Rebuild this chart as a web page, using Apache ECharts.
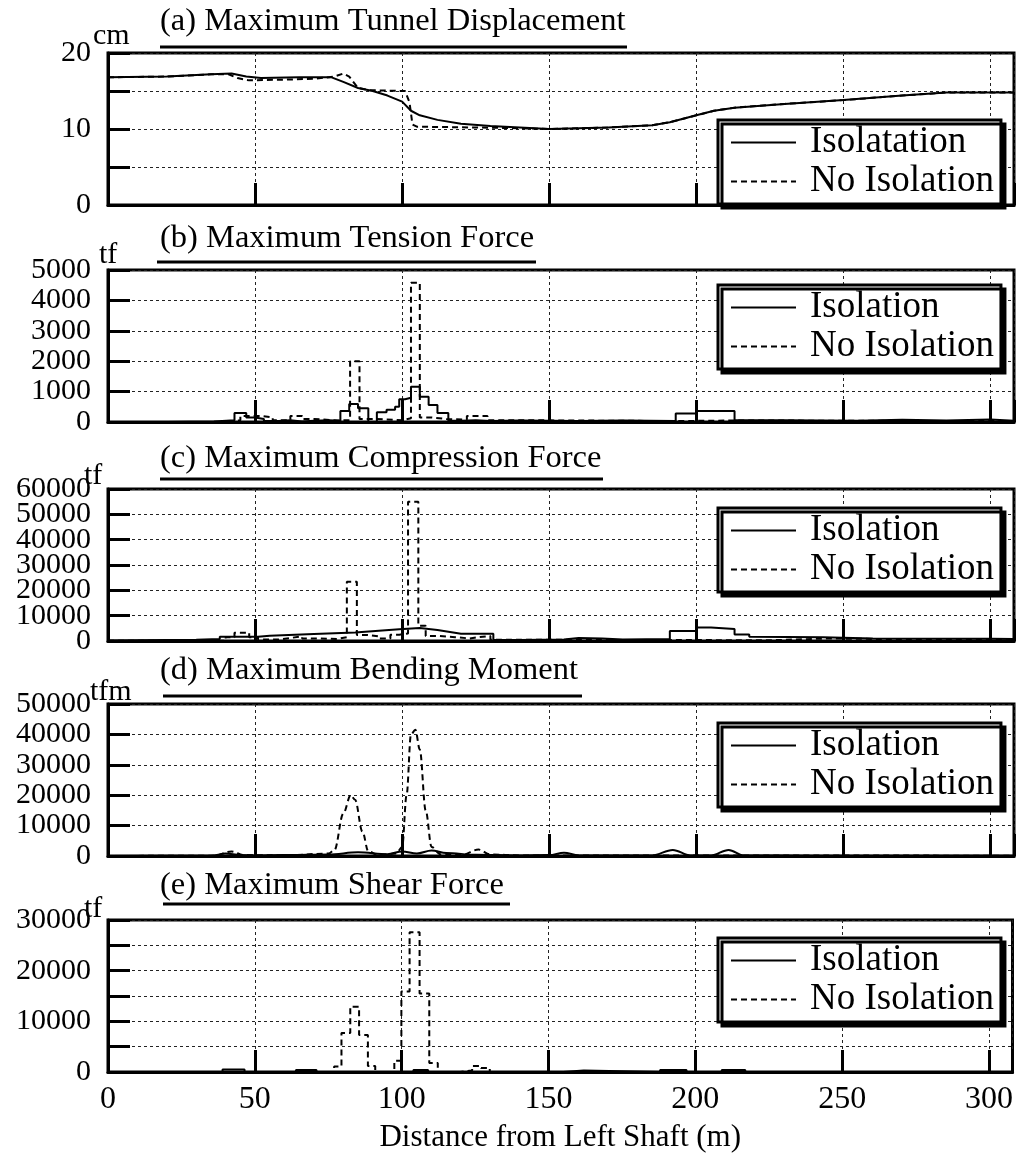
<!DOCTYPE html>
<html>
<head>
<meta charset="utf-8">
<script src="https://cdn.jsdelivr.net/npm/echarts@6/dist/echarts.min.js"></script>
<style>
  * { margin: 0; padding: 0; }
  #chart-container { width: 1016px; height: 1158px; background: #fff; }
</style>
</head>
<body>
<div id="chart-container"></div>
<script>
// values: [distance from left shaft (m), value]
var dispIso = [[0,16.8],[20,16.9],[35,17.2],[42,17.3],[47,16.9],[52,16.7],[65,16.8],[76,16.8],[80,16.2],[85,15.4],[90,15.0],[95,14.4],[100,13.6],[103,12.4],[106,11.8],[112,11.2],[120,10.7],[130,10.4],[150,10.0],[170,10.2],[185,10.5],[191,10.9],[200,11.8],[206,12.4],[213,12.8],[230,13.3],[250,13.8],[270,14.4],[285,14.8],[308,14.8]]
var dispNoIso = [[0,16.8],[20,16.9],[35,17.2],[41,17.2],[44,16.7],[48,16.4],[60,16.5],[70,16.6],[77,16.9],[80,17.3],[82,16.9],[85,15.4],[89,15.1],[101,15.0],[102.5,13.5],[103.5,10.6],[105,10.3],[125,10.2],[140,10.1],[150,10.0],[170,10.2],[185,10.5],[191,10.9],[200,11.8],[206,12.4],[213,12.8],[230,13.3],[250,13.8],[270,14.4],[285,14.8],[308,14.8]]

// step data: value holds from x until the next x
var tensionIso = [[0,0],[20,20],[36,60],[43,300],[47,150],[50,100],[53,30],[58,60],[62,20],[66,40],[70,60],[75,40],[79,360],[82,590],[85,450],[88.5,0],[91.4,320],[94.7,400],[97.6,500],[99,750],[101,800],[103,1160],[106,830],[109,560],[112,300],[115.7,40],[120,60],[125,30],[130,50],[140,30],[160,50],[175,30],[193,280],[200,360],[213,60],[230,40],[255,70],[270,50],[285,80],[300,40],[308,40]]
var tensionNoIso = [[0,0],[40,60],[45,200],[52,150],[56,60],[62,200],[66,100],[70,50],[78,60],[82.3,2000],[85.5,100],[90,60],[100,120],[103,4580],[106,150],[110,100],[115,80],[122,200],[129,60],[140,30],[193,50],[213,30],[308,30]]

var compIso = [[0,200],[30,500],[38,800],[38,1700],[51,1700],[51,2000],[55,2100],[70,2800],[84,3400],[99,4600],[106,5100],[112,4300],[120,2900],[131,2900],[131,500],[140,400],[155,600],[160,1200],[168,1000],[175,600],[191,800],[191,3900],[200,3900],[200,5300],[205,5350],[213,4700],[213,2600],[218,2600],[218,1700],[243,1500],[260,1000],[300,900],[308,800]]
var compNoIso = [[0,100],[40,1500],[43,3300],[48,1500],[51,600],[58,1200],[62,1800],[66,1000],[72,800],[78,1500],[81.2,23400],[84.6,2400],[88,1800],[92,1000],[96,2500],[99,3000],[102,55000],[105.5,6000],[108,2000],[112,1500],[118,1000],[123,1500],[126,2000],[130,500],[140,300],[225,1000],[245,300],[308,300]]

var momentIso = [[0,0],[35,100],[40,800],[45,300],[50,200],[60,300],[75,500],[85,1200],[95,600],[100,1500],[105,800],[110,1800],[115,1000],[125,400],[140,200],[150,300],[155,1100],[160,200],[185,200],[192,2000],[198,200],[205,200],[211,2000],[216,200],[240,100],[308,100]]
var momentNoIso = [[0,0],[36,100],[42,1500],[46,300],[60,200],[75,800],[77,2000],[80,14000],[82.5,20000],[84,18500],[86.5,8000],[88.5,1500],[92,300],[98,800],[100,3000],[101.5,20000],[103,40000],[104.5,41500],[106,35000],[108,15000],[110,3000],[113,600],[120,300],[126,2100],[130,500],[140,200],[308,100]]

var shearIso = [[0,0],[39,500],[46.5,0],[64,400],[71,0],[104,400],[109,0],[155,300],[162,0],[188,400],[197,0],[209,400],[217,0],[308,0]]
var shearNoIso = [[0,0],[77,1100],[79.5,7700],[82.5,12900],[85.5,7300],[88.5,1200],[91,0],[97.5,2200],[99.9,15900],[102.7,27600],[106.1,15500],[109.4,1800],[112.3,0],[120,300],[124,1200],[127,800],[130,0],[308,0]]

var titles = ['(a) Maximum Tunnel Displacement', '(b) Maximum Tension Force', '(c) Maximum Compression Force', '(d) Maximum Bending Moment', '(e) Maximum Shear Force']
var units = ['cm', 'tf', 'tf', 'tfm', 'tf']
var yMax = [20, 5000, 60000, 50000, 30000]
var yStep = [5, 1000, 10000, 10000, 5000]
var yLabelStep = [10, 1000, 10000, 10000, 10000]
var isoNames = ['Isolatation', 'Isolation', 'Isolation', 'Isolation', 'Isolation']
var noIsoName = 'No Isolation'
var xMax = 308
var xStep = 50
var xName = 'Distance from Left Shaft (m)'

var chartDom = document.getElementById('chart-container')
var myChart = echarts.init(chartDom, null, { renderer: 'canvas' })
var font = '"Liberation Serif", "Times New Roman", serif'

var tops = [53, 270, 489, 704, 920]
var titleTops = [5, 222, 442, 654, 869]
var underlines = [[160, 627, 47], [157, 536, 262], [160, 603, 479], [163, 582, 696], [163, 510, 904]]
var unitPos = [[93, 36], [99, 255], [84, 476], [90, 692], [84, 909]]
var legendTops = [120, 285, 508, 723, 938]
// panel (c) labels sit so close that echarts drops some; split them over two stacked axes
var splitLabels = [false, false, true, false, false]

var panels = [
  { iso: dispIso, noIso: dispNoIso, isoStep: false, noStep: false, smooth: false },
  { iso: tensionIso, noIso: tensionNoIso, isoStep: 'end', noStep: 'end', smooth: false },
  { iso: compIso, noIso: compNoIso, isoStep: false, noStep: 'end', smooth: false },
  { iso: momentIso, noIso: momentNoIso, isoStep: false, noStep: false, smooth: 0.35 },
  { iso: shearIso, noIso: shearNoIso, isoStep: 'end', noStep: 'end', smooth: false },
]

var grid = [], xAxis = [], yAxis = [], extraY = [], series = [], legend = [], title = [], graphic = []

function yLabelStyle(fmt) {
  return {
    interval: 0, margin: 17, fontFamily: font, fontSize: 30, color: '#000',
    showMinLabel: true, showMaxLabel: true, formatter: fmt,
  }
}

panels.forEach(function (p, i) {
  grid.push({
    left: 108, right: 2, top: tops[i], height: 152,
    show: true, borderColor: '#000', borderWidth: 3,
  })
  xAxis.push({
    type: 'value', gridIndex: i, min: 0, max: xMax, interval: xStep,
    name: i === 4 ? xName : '',
    nameLocation: 'middle', nameGap: 50,
    nameTextStyle: { fontFamily: font, fontSize: 31, color: '#000' },
    axisLine: { lineStyle: { color: '#000', width: 3 } },
    axisTick: { inside: true, length: 22, lineStyle: { color: '#000', width: 3 } },
    axisLabel: {
      show: i === 4, margin: 12, fontFamily: font, fontSize: 32, color: '#000',
      formatter: function (v) { return v % xStep === 0 ? String(v) : '' },
    },
    splitLine: { show: true, lineStyle: { color: '#222', width: 1, type: [3, 3] } },
  })
  var step = splitLabels[i] ? yLabelStep[i] * 2 : yLabelStep[i]
  yAxis.push({
    type: 'value', gridIndex: i, position: 'left', min: 0, max: yMax[i], interval: yStep[i],
    axisLine: { lineStyle: { color: '#000', width: 3 } },
    axisTick: { inside: true, length: 22, lineStyle: { color: '#000', width: 3 } },
    axisLabel: yLabelStyle(function (v) { return v % step === 0 ? String(v) : '' }),
    splitLine: { show: true, lineStyle: { color: '#222', width: 1, type: [3, 3] } },
  })
  if (splitLabels[i]) {
    extraY.push({
      type: 'value', gridIndex: i, position: 'left', offset: 0, min: 0, max: yMax[i], interval: yStep[i],
      axisLine: { show: false }, axisTick: { show: false }, splitLine: { show: false },
      axisLabel: yLabelStyle(function (v) { return v % step === yLabelStep[i] ? String(v) : '' }),
    })
  }
  series.push({
    type: 'line', name: isoNames[i], xAxisIndex: i, yAxisIndex: i,
    data: p.iso, step: p.isoStep, smooth: p.smooth, smoothMonotone: 'x',
    symbol: 'none', lineStyle: { color: '#000', width: 2 }, itemStyle: { color: '#000' },
  })
  series.push({
    type: 'line', name: noIsoName, xAxisIndex: i, yAxisIndex: i,
    data: p.noIso, step: p.noStep, smooth: p.smooth, smoothMonotone: 'x',
    symbol: 'none', lineStyle: { color: '#000', width: 2, type: [6, 4] }, itemStyle: { color: '#000' },
  })
  legend.push({
    data: [isoNames[i], noIsoName],
    orient: 'vertical', left: 718, top: legendTops[i],
    padding: [4, 7, 4, 12], itemGap: 2, itemWidth: 65, itemHeight: 2,
    backgroundColor: '#fff', borderColor: '#000', borderWidth: 3,
    shadowColor: '#000', shadowBlur: 0, shadowOffsetX: 4, shadowOffsetY: 4,
    selectedMode: false,
    itemStyle: { opacity: 0 },
    lineStyle: { width: 2 },
    formatter: function (name) { return '{t|' + name + '}' },
    textStyle: {
      rich: { t: { fontFamily: font, fontSize: 37, color: '#000', padding: [0, 0, 0, 9] } },
    },
  })
  title.push({
    text: titles[i], left: 160, top: titleTops[i], padding: 0,
    textStyle: { fontFamily: font, fontSize: 32.5, fontWeight: 'normal', color: '#000' },
  })
  graphic.push({
    type: 'line',
    shape: { x1: underlines[i][0], y1: underlines[i][2], x2: underlines[i][1], y2: underlines[i][2] },
    style: { stroke: '#000', lineWidth: 3 },
  })
  graphic.push({
    type: 'text', x: unitPos[i][0], y: unitPos[i][1],
    style: { text: units[i], font: '30px ' + font, fill: '#000', textVerticalAlign: 'middle' },
  })
})

var option = {
  backgroundColor: '#fff',
  animation: false,
  title: title,
  legend: legend,
  grid: grid,
  xAxis: xAxis,
  yAxis: yAxis.concat(extraY),
  series: series,
  graphic: graphic,
}
myChart.setOption(option)
window.addEventListener('resize', myChart.resize)
</script>
</body>
</html>
